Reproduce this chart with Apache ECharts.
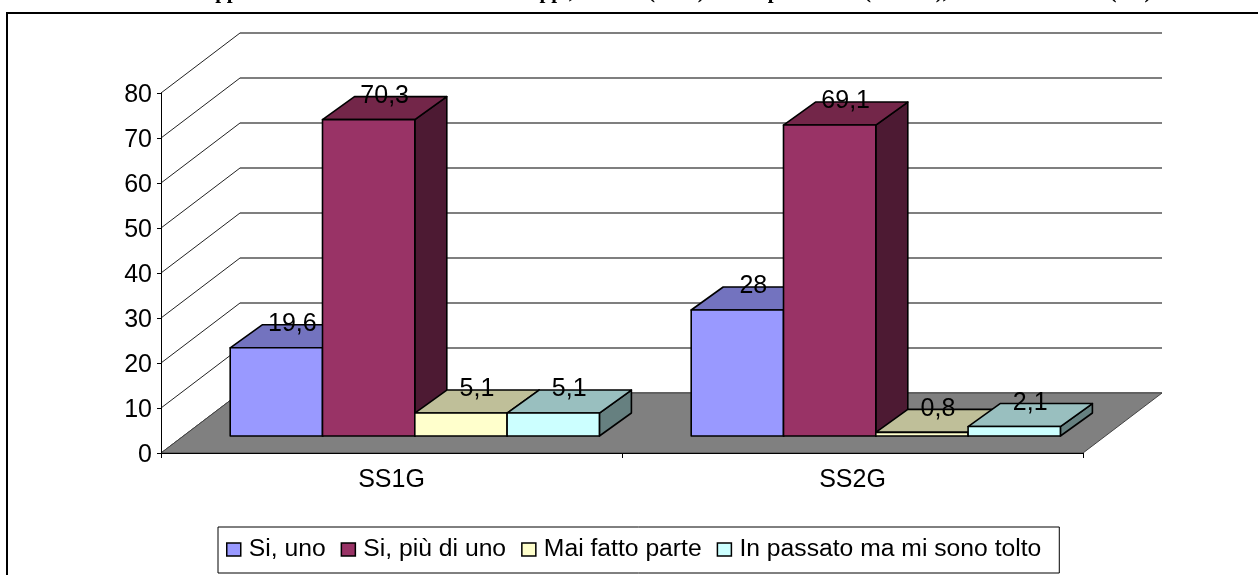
<!DOCTYPE html>
<html>
<head>
<meta charset="utf-8">
<style>html,body{margin:0;padding:0;background:#fff}#c{width:1258px;height:575px}</style>
<script src="https://cdn.jsdelivr.net/npm/echarts@6/dist/echarts.min.js"></script>
</head>
<body>
<div id="c"></div>
<script>
var categories = ['SS1G', 'SS2G'];
var seriesNames = ['Si, uno', 'Si, più di uno', 'Mai fatto parte', 'In passato ma mi sono tolto'];
var siUno = [19.6, 28];
var siPiuDiUno = [70.3, 69.1];
var maiFattoParte = [5.1, 0.8];
var inPassato = [5.1, 2.1];
var yTicks = [0, 10, 20, 30, 40, 50, 60, 70, 80];
var titleText = 'Appartenenza alle associazioni ai Gruppi, solo un (si un) anche più di uno (Si tanti), non è mai iscritti (noi)';

var seriesValues = [siUno, siPiuDiUno, maiFattoParte, inPassato];
var frontColors = ['#9999FF', '#993366', '#FFFFCC', '#CCFFFF'];
var topColors = ['#7373BF', '#732649', '#BFBF99', '#99BFBF'];
var sideColors = ['#4D4D80', '#4D1A33', '#808066', '#668080'];
var FONT = '"Liberation Sans", Arial, sans-serif';
var FONT_SIZE = 25;
var LEGEND_FONT_SIZE = 24.7;
var WALL_DX = 79, WALL_DY = -60;
var PLANE_DX = 23.3, PLANE_DY = -17;
var BAR_DX = 32, BAR_DY = -23;
var BAR_W = 92.3;

var chart = echarts.init(document.getElementById('c'), null, {renderer: 'canvas'});

function barRender(si) {
  return function (params, api) {
    var cat = api.value(0), val = api.value(1);
    var base = api.coord([cat, 0]);
    var tip = api.coord([cat, val]);
    var x = base[0] + (si - 2) * BAR_W + PLANE_DX;
    var y0 = base[1] + PLANE_DY;
    var y1 = tip[1] + PLANE_DY;
    var w = BAR_W;
    var stroke = {stroke: '#000', lineWidth: 1.6, lineJoin: 'round'};
    function poly(pts, fill) {
      return {type: 'polygon', shape: {points: pts}, style: Object.assign({fill: fill}, stroke)};
    }
    return {
      type: 'group',
      children: [
        poly([[x + w, y0], [x + w + BAR_DX, y0 + BAR_DY], [x + w + BAR_DX, y1 + BAR_DY], [x + w, y1]], sideColors[si]),
        poly([[x, y1], [x + w, y1], [x + w + BAR_DX, y1 + BAR_DY], [x + BAR_DX, y1 + BAR_DY]], topColors[si]),
        poly([[x, y0], [x + w, y0], [x + w, y1], [x, y1]], frontColors[si]),
        {
          type: 'text', z2: 100,
          style: {
            x: x + w / 2 + BAR_DX / 2, y: y1 + BAR_DY / 2 - 12,
            text: String(val).replace('.', ','),
            fill: '#000', font: FONT_SIZE + 'px ' + FONT, align: 'center', verticalAlign: 'middle'
          }
        }
      ]
    };
  };
}

function wallRender(params, api) {
  var cs = params.coordSys;
  var y = api.coord([0, api.value(0)])[1];
  return {
    type: 'group',
    children: [
      {type: 'line', shape: {x1: cs.x, y1: y, x2: cs.x + WALL_DX, y2: y + WALL_DY}, style: {stroke: '#222', lineWidth: 1}},
      {type: 'line', shape: {x1: cs.x + WALL_DX, y1: y + WALL_DY, x2: cs.x + cs.width + WALL_DX, y2: y + WALL_DY}, style: {stroke: '#555', lineWidth: 1.4}}
    ]
  };
}

function floorRender(params, api) {
  var cs = params.coordSys;
  var y = api.coord([0, 0])[1];
  return {
    type: 'polygon',
    shape: {points: [[cs.x, y], [cs.x + cs.width, y], [cs.x + cs.width + WALL_DX, y + WALL_DY], [cs.x + WALL_DX, y + WALL_DY]]},
    style: {fill: '#808080', stroke: '#444', lineWidth: 1}
  };
}

var series = [
  {type: 'custom', name: 'wall', silent: true, z: 1, data: yTicks.map(function (t) { return [t]; }), encode: {y: 0}, renderItem: wallRender},
  {type: 'custom', name: 'floor', silent: true, z: 1, data: [[0]], encode: {y: 0}, renderItem: floorRender}
];
seriesNames.forEach(function (n, si) {
  series.push({
    type: 'custom', name: n, z: 2, silent: true,
    itemStyle: {color: frontColors[si]},
    data: seriesValues[si].map(function (v, i) { return [i, v]; }),
    encode: {x: 0, y: 1},
    renderItem: barRender(si)
  });
});

chart.setOption({
  animation: false,
  backgroundColor: '#fff',
  title: {
    text: titleText, left: 200, top: -18, padding: 0,
    textStyle: {fontFamily: '"Liberation Serif", serif', fontWeight: 'bold', fontSize: 21, color: '#000'}
  },
  grid: {left: 161, right: 175, top: 93, bottom: 122, containLabel: false},
  xAxis: {
    type: 'category', data: categories, boundaryGap: true,
    axisLine: {show: true, lineStyle: {color: '#000', width: 1}},
    axisTick: {show: true, length: 5, lineStyle: {color: '#000'}, alignWithLabel: false},
    axisLabel: {color: '#000', fontFamily: FONT, fontSize: FONT_SIZE, margin: 15},
    z: 5
  },
  yAxis: {
    type: 'value', min: 0, max: 80, interval: 10,
    axisLine: {show: true, lineStyle: {color: '#000', width: 1}},
    axisTick: {show: true, length: 4, lineStyle: {color: '#000'}},
    splitLine: {show: false},
    axisLabel: {
      color: '#000', margin: 9,
      formatter: '{n|{value}}',
      rich: {n: {color: '#000', fontFamily: FONT, fontSize: FONT_SIZE, padding: [4, 0, 0, 0]}}
    },
    z: 5
  },
  legend: {
    left: 218, top: 527, orient: 'horizontal',
    padding: [10, 18, 11, 8],
    backgroundColor: '#fff', borderColor: '#000', borderWidth: 1, borderRadius: 0,
    itemWidth: 14, itemHeight: 13, itemGap: 15,
    selectedMode: false,
    textStyle: {color: '#000', fontFamily: FONT, fontSize: LEGEND_FONT_SIZE, padding: [0, 0, 0, 3]},
    data: seriesNames.map(function (n, si) {
      return {name: n, icon: 'rect', itemStyle: {color: frontColors[si], borderColor: '#000', borderWidth: 1.5}};
    })
  },
  graphic: [
    {type: 'line', silent: true, shape: {x1: 7, y1: 13, x2: 1258, y2: 13}, style: {stroke: '#000', lineWidth: 2}},
    {type: 'line', silent: true, shape: {x1: 7, y1: 12, x2: 7, y2: 575}, style: {stroke: '#000', lineWidth: 2}}
  ],
  series: series
});
</script>
</body>
</html>
